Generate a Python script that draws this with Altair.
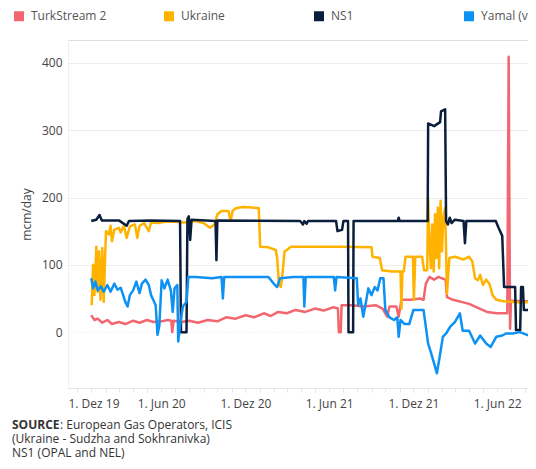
import altair as alt
import pandas as pd

FONT = "Open Sans"

SERIES = ["TurkStream 2", "Ukraine", "NS1", "Yamal (via"]
COLORS = ["#F2666F", "#FFB300", "#0B1F3C", "#0D92F4"]

ts_dates = ["2020-01-01", "2020-01-08", "2020-01-15", "2020-01-25", "2020-02-05", "2020-02-15",
            "2020-03-01", "2020-03-15", "2020-04-01", "2020-04-15", "2020-05-01", "2020-05-15",
            "2020-06-01", "2020-06-15", "2020-06-23", "2020-06-25", "2020-06-28", "2020-07-15",
            "2020-08-01", "2020-08-20", "2020-09-10", "2020-10-01", "2020-10-20", "2020-11-10",
            "2020-12-01", "2020-12-20", "2021-01-10", "2021-01-25", "2021-02-10", "2021-03-01",
            "2021-03-20", "2021-04-10", "2021-05-01", "2021-05-20", "2021-06-10", "2021-06-20",
            "2021-06-22", "2021-06-26", "2021-06-28", "2021-07-20", "2021-08-15", "2021-09-10",
            "2021-09-25", "2021-10-05", "2021-10-10", "2021-10-25", "2021-10-30", "2021-11-05",
            "2021-11-25", "2021-12-15", "2021-12-23", "2021-12-28", "2022-01-05", "2022-01-15",
            "2022-01-25", "2022-02-01", "2022-02-09", "2022-02-12", "2022-02-25", "2022-03-15",
            "2022-04-01", "2022-04-20", "2022-05-10", "2022-06-01", "2022-06-18", "2022-06-23",
            "2022-06-26", "2022-06-29", "2022-07-01", "2022-07-20", "2022-08-25"]
ts_values = [25, 18, 20, 14, 18, 12,
             15, 12, 17, 14, 18, 15,
             16, 18, 17, 0, 17, 15,
             17, 14, 18, 16, 22, 20,
             25, 22, 28, 24, 30, 28,
             33, 30, 35, 32, 37, 35,
             0, 0, 40, 40, 38, 40,
             35, 23, 38, 38, 23, 48,
             48, 50, 48, 72, 82, 78,
             82, 80, 78, 52, 48, 45,
             42, 36, 30, 28, 28, 28,
             409, 5, 47, 46, 46]

ua_dates = ["2020-01-02", "2020-01-05", "2020-01-08", "2020-01-12", "2020-01-15", "2020-01-18",
            "2020-01-21", "2020-01-25", "2020-01-28", "2020-02-02", "2020-02-08", "2020-02-12",
            "2020-02-15", "2020-02-20", "2020-03-01", "2020-03-05", "2020-03-12", "2020-03-18",
            "2020-03-25", "2020-04-05", "2020-04-10", "2020-04-15", "2020-04-25", "2020-05-05",
            "2020-05-10", "2020-05-25", "2020-06-10", "2020-07-01", "2020-07-20", "2020-08-15",
            "2020-09-01", "2020-09-15", "2020-09-25", "2020-10-01", "2020-10-10", "2020-10-25",
            "2020-10-30", "2020-11-03", "2020-11-10", "2020-11-25", "2020-12-15", "2020-12-30",
            "2021-01-02", "2021-01-20", "2021-02-05", "2021-02-08", "2021-02-12", "2021-02-16",
            "2021-02-20", "2021-02-24", "2021-03-01", "2021-03-10", "2021-05-01", "2021-07-01",
            "2021-09-01", "2021-09-03", "2021-09-19", "2021-09-24", "2021-10-15", "2021-11-03",
            "2021-11-05", "2021-11-07", "2021-11-10", "2021-11-14", "2021-11-30", "2021-12-02",
            "2021-12-05", "2021-12-20", "2021-12-24", "2021-12-31", "2022-01-02", "2022-01-05",
            "2022-01-08", "2022-01-11", "2022-01-14", "2022-01-17", "2022-01-20", "2022-01-23",
            "2022-01-26", "2022-01-29", "2022-02-01", "2022-02-04", "2022-02-08", "2022-02-12",
            "2022-02-17", "2022-03-01", "2022-03-20", "2022-04-01", "2022-04-08", "2022-04-14",
            "2022-04-20", "2022-04-25", "2022-05-01", "2022-05-08", "2022-05-15", "2022-05-22",
            "2022-05-30", "2022-06-15", "2022-07-01", "2022-07-20", "2022-08-25"]
ua_values = [40, 100, 55, 127, 60, 120,
             48, 125, 45, 150, 145, 158,
             135, 152, 155, 148, 158, 140,
             157, 160, 140, 158, 162, 150,
             163, 162, 164, 164, 163, 165,
             162, 155, 160, 175, 180, 180,
             165, 180, 184, 186, 185, 184,
             127, 126, 122, 110, 70, 67,
             90, 120, 122, 127, 127, 127,
             126, 112, 110, 92, 90, 90,
             35, 90, 90, 112, 112, 48,
             112, 112, 92, 92, 199, 130,
             95, 160, 90, 175, 110, 185,
             95, 195, 120, 170, 185, 57,
             110, 112, 108, 112, 105, 80,
             77, 85, 70, 78, 72, 55,
             48, 46, 45, 44, 45]

ns_dates = ["2020-01-01", "2020-01-12", "2020-01-19", "2020-01-24", "2020-03-01", "2020-03-18",
            "2020-03-23", "2020-05-10", "2020-07-12", "2020-07-14", "2020-07-26", "2020-07-28",
            "2020-07-31", "2020-08-03", "2020-08-06", "2020-09-27", "2020-09-29", "2020-10-01",
            "2021-03-30", "2021-04-05", "2021-04-08", "2021-04-13", "2021-04-16", "2021-06-16",
            "2021-06-19", "2021-06-29", "2021-07-02", "2021-07-12", "2021-07-13", "2021-07-23",
            "2021-07-24", "2021-10-28", "2021-10-30", "2021-11-01", "2022-01-01", "2022-01-02",
            "2022-01-15", "2022-01-28", "2022-01-30", "2022-02-08", "2022-02-10", "2022-02-14",
            "2022-02-18", "2022-02-22", "2022-03-01", "2022-03-20", "2022-03-23", "2022-03-26",
            "2022-05-29", "2022-06-04", "2022-06-12", "2022-06-16", "2022-07-10", "2022-07-12",
            "2022-07-21", "2022-07-23", "2022-07-27", "2022-07-29", "2022-08-25"]
ns_values = [165, 167, 174, 166, 166, 158,
             165, 166, 165, 0, 0, 168,
             172, 137, 167, 165, 107, 166,
             165, 160, 165, 161, 165, 165,
             150, 152, 165, 165, 0, 0,
             165, 165, 170, 165, 165, 310,
             306, 312, 328, 331, 165, 160,
             170, 162, 167, 165, 132, 165,
             165, 155, 143, 67, 67, 3,
             3, 67, 67, 33, 33]

ya_dates = ["2020-01-01", "2020-01-05", "2020-01-10", "2020-01-15", "2020-01-22", "2020-01-28",
            "2020-02-05", "2020-02-12", "2020-02-20", "2020-02-27", "2020-03-05", "2020-03-15",
            "2020-03-20", "2020-03-25", "2020-04-01", "2020-04-08", "2020-04-15", "2020-04-20",
            "2020-04-28", "2020-05-05", "2020-05-10", "2020-05-20", "2020-05-24", "2020-05-28",
            "2020-06-02", "2020-06-08", "2020-06-15", "2020-06-22", "2020-06-26", "2020-06-30",
            "2020-07-06", "2020-07-08", "2020-07-12", "2020-07-18", "2020-07-26", "2020-07-30",
            "2020-08-15", "2020-09-20", "2020-10-10", "2020-10-13", "2020-10-16", "2021-01-20",
            "2021-02-03", "2021-02-08", "2021-02-14", "2021-03-15", "2021-04-06", "2021-04-08",
            "2021-04-11", "2021-06-11", "2021-06-14", "2021-06-17", "2021-07-31", "2021-08-03",
            "2021-08-08", "2021-08-14", "2021-08-20", "2021-08-25", "2021-09-01", "2021-09-08",
            "2021-09-14", "2021-09-20", "2021-09-27", "2021-10-01", "2021-10-10", "2021-10-20",
            "2021-10-27", "2021-10-30", "2021-11-03", "2021-11-12", "2021-11-22", "2021-12-01",
            "2021-12-12", "2021-12-23", "2022-01-02", "2022-01-08", "2022-01-13", "2022-01-21",
            "2022-01-27", "2022-02-03", "2022-02-10", "2022-02-19", "2022-03-01", "2022-03-12",
            "2022-03-18", "2022-04-01", "2022-04-14", "2022-04-25", "2022-05-08", "2022-05-18",
            "2022-05-30", "2022-06-12", "2022-06-20", "2022-07-05", "2022-07-20", "2022-08-05",
            "2022-08-25"]
ya_values = [80, 65, 75, 62, 68, 60,
             70, 60, 72, 63, 66, 45,
             38, 55, 62, 75, 58, 72,
             78, 70, 55, 40, -4, 10,
             77, 65, 78, 62, 30, 65,
             70, -14, 10, 38, 45, 82,
             82, 80, 82, 50, 82, 82,
             70, 67, 80, 82, 82, 38,
             82, 82, 62, 82, 80, 40,
             50, 23, 45, 65, 55, 67,
             62, 80, 80, 33, 22, 18,
             22, -7, 18, 12, 12, 33,
             33, 33, -17, -30, -42, -61,
             -37, -7, -2, 8, 15, 28,
             2, 2, -17, -5, -17, -22,
             -7, -5, -2, -2, 0, -4,
             -8]

SOURCE_LINES = ["European Gas Operators, ICIS", "(Ukraine - Sudzha and Sokhranivka)", "NS1 (OPAL and NEL)"]

frames = []
for name, d, v in [(SERIES[0], ts_dates, ts_values), (SERIES[1], ua_dates, ua_values),
                   (SERIES[2], ns_dates, ns_values), (SERIES[3], ya_dates, ya_values)]:
    frames.append(pd.DataFrame({"date": d, "value": v, "series": name}))
df = pd.concat(frames, ignore_index=True)

month_ticks = []
for y in (2019, 2020, 2021, 2022):
    for m in range(1, 13):
        if (y, m) < (2019, 12) or (y, m) > (2022, 8):
            continue
        month_ticks.append(alt.DateTime(year=y, month=m, date=1, utc=True))

x_domain = [alt.DateTime(year=2019, month=11, date=11, hours=12, utc=True),
            alt.DateTime(year=2022, month=8, date=7, utc=True)]

label_expr = ("utcmonth(datum.value) == 11 ? '1. Dez ' + utcFormat(datum.value, '%y') : "
              "(utcmonth(datum.value) == 5 ? '1. Jun ' + utcFormat(datum.value, '%y') : '')")

lines = alt.Chart(df).mark_line(strokeWidth=2.5, clip=True, strokeJoin="round").encode(
    x=alt.X("date:T",
            scale=alt.Scale(type="utc", domain=x_domain),
            axis=alt.Axis(title=None, values=month_ticks, labelExpr=label_expr, grid=False,
                          domainColor="#e6e6e6", tickColor="#e6e6e6", tickSize=4,
                          labelPadding=6, labelFontSize=12, labelColor="#444444", labelFont=FONT,
                          labelOverlap=False, labelFlush=15, labelFlushOffset=9)),
    y=alt.Y("value:Q",
            scale=alt.Scale(domain=[-83, 434], nice=False, zero=False),
            axis=alt.Axis(title="mcm/day", values=[0, 100, 200, 300, 400], ticks=False,
                          domainColor="#f0f0f0", gridColor="#ececec",
                          gridDash={"condition": {"test": "datum.value === 0", "value": [1, 2]}, "value": []},
                          labelPadding=6, labelFontSize=12, labelColor="#444444", labelFont=FONT,
                          titleFont=FONT, titleFontSize=12, titleFontWeight="normal",
                          titleColor="#444444", titlePadding=8)),
    color=alt.Color("series:N",
                    scale=alt.Scale(domain=SERIES, range=COLORS),
                    legend=alt.Legend(title=None, orient="none", legendX=-55, legendY=-30,
                                      direction="horizontal", columns=4, gridAlign="all",
                                      columnPadding=49, symbolType="square", symbolSize=25,
                                      symbolStrokeWidth=5, labelFontSize=12, labelColor="#555555",
                                      labelFont=FONT, labelOffset=6)),
)

src_bold = alt.Chart(pd.DataFrame({"t": ["SOURCE"]})).mark_text(
    align="left", baseline="alphabetic", fontSize=12, font=FONT, fontWeight="bold", color="#333333"
).encode(text="t:N", x=alt.value(-56), y=alt.value(389))

src_rest = []
for i, line in enumerate(SOURCE_LINES):
    txt = (": " + line) if i == 0 else line
    xpos = -56 + 48 if i == 0 else -56
    src_rest.append(alt.Chart(pd.DataFrame({"t": [txt]})).mark_text(
        align="left", baseline="alphabetic", fontSize=12, font=FONT, color="#333333"
    ).encode(text="t:N", x=alt.value(xpos), y=alt.value(389 + 14 * i)))

chart = alt.layer(lines, src_bold, *src_rest).properties(
    width=460, height=348,
    padding={"left": 60, "top": 32, "right": 0, "bottom": 72},
    autosize=alt.AutoSizeParams(type="none"),
).configure_view(stroke=None).configure(background="white")

chart.save("out.html", embed_options={"renderer": "svg", "actions": False})
